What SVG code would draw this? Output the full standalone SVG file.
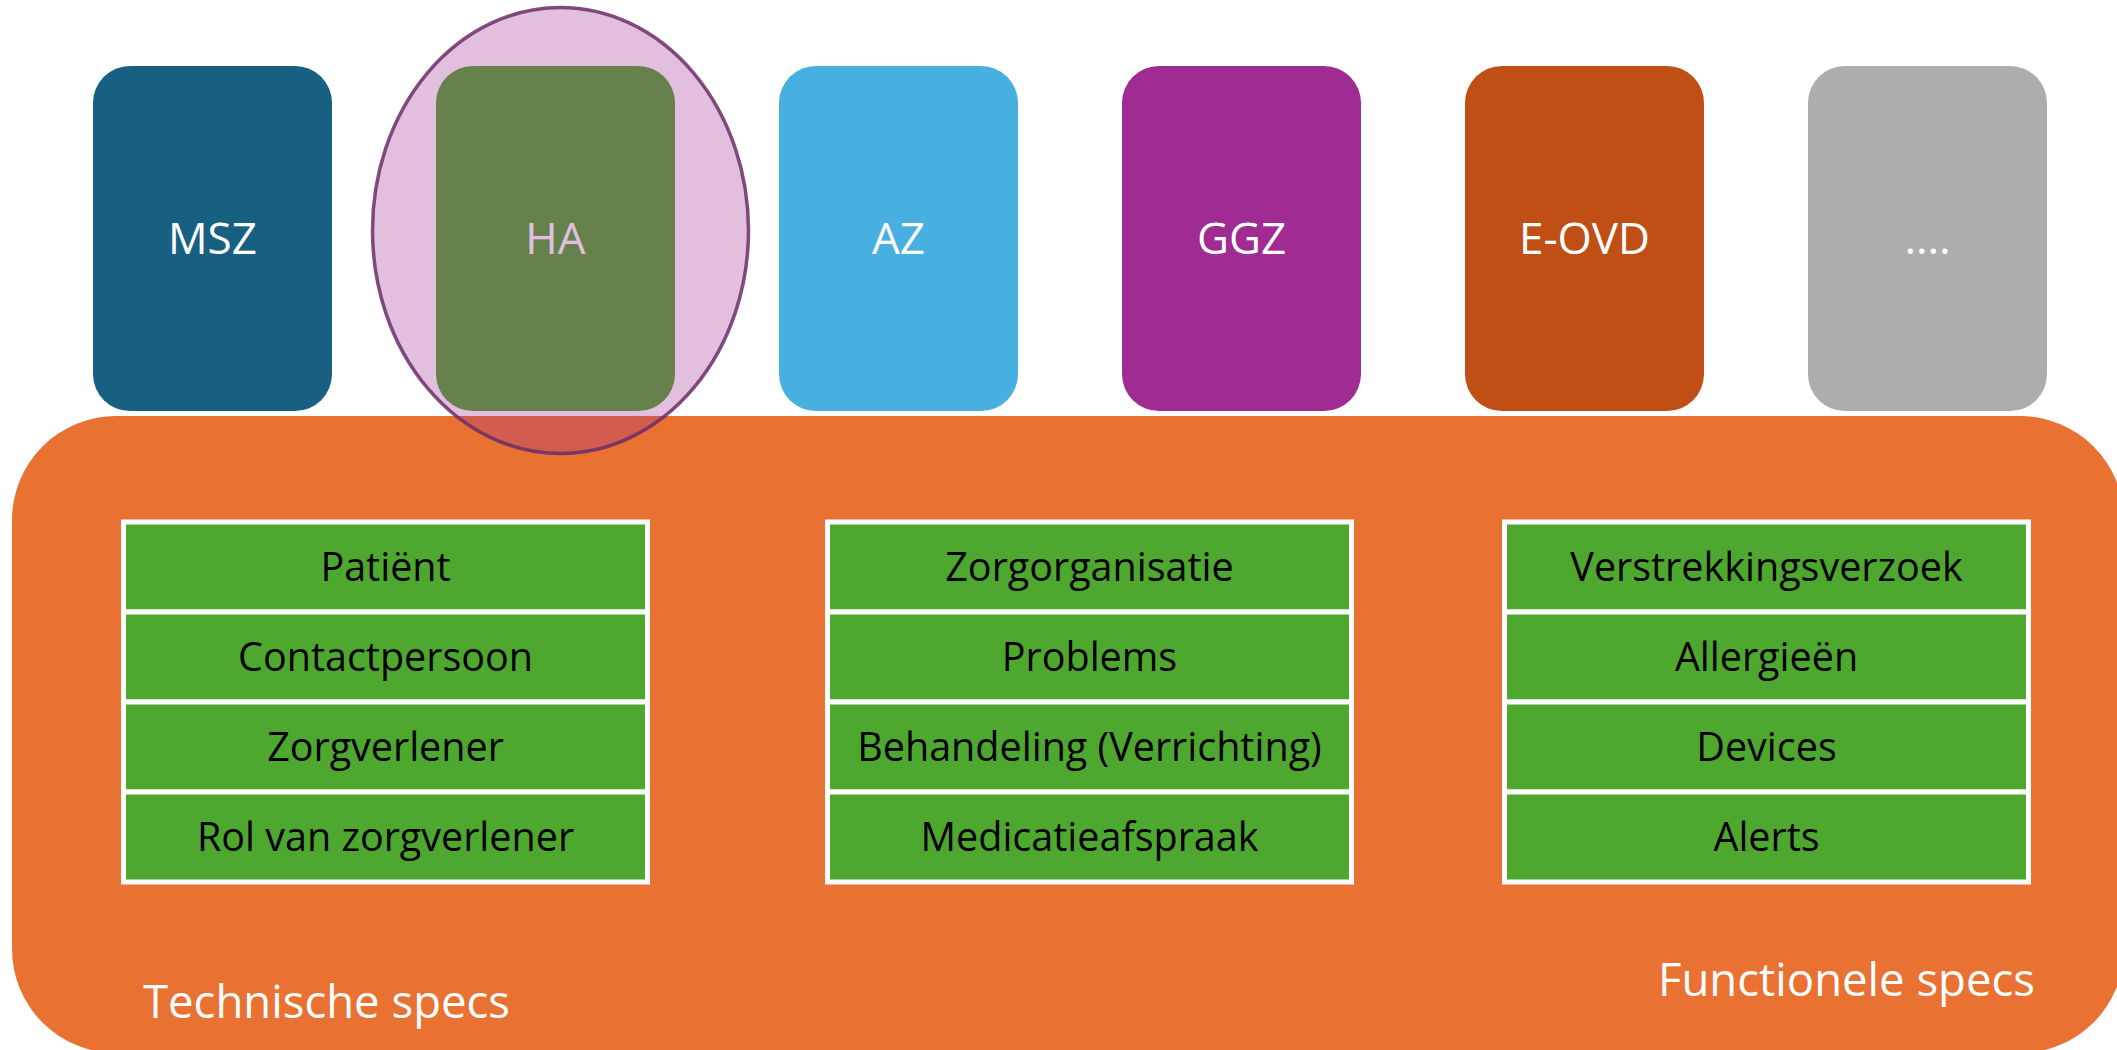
<svg xmlns="http://www.w3.org/2000/svg" width="2117" height="1050" viewBox="0 0 2117 1050">
  <style>
    .lbl { font-family: "Open Sans", "Liberation Sans", sans-serif; font-size: 44px; fill: #FFFFFF; text-anchor: middle; }
    .cell { fill: #4EA72E; stroke: #FFFFFF; stroke-width: 5; }
    .ct { font-family: "Open Sans", "Liberation Sans", sans-serif; font-size: 39.5px; fill: #000000; text-anchor: middle; }
    .spec { font-family: "Open Sans", "Liberation Sans", sans-serif; font-size: 45.5px; fill: #FFFFFF; }
  </style>
  <rect width="2117" height="1050" fill="#FFFFFF"/>

  <g id="panel">
    <rect x="12" y="416" width="2112" height="637" rx="104" ry="104" fill="#E97132"/>
    <text class="spec" x="143" y="1018">Technische specs</text>
    <text class="spec" x="2035" y="996" text-anchor="end">Functionele specs</text>
  </g>

  <g id="node-msz">
    <rect x="93" y="66" width="239" height="345" rx="37" fill="#186082"/>
    <text class="lbl" x="212.5" y="254">MSZ</text>
  </g>
  <g id="node-ha">
    <rect x="436" y="66" width="239" height="345" rx="37" fill="#4EA72E"/>
    <text class="lbl" x="555.5" y="254">HA</text>
  </g>
  <g id="node-az">
    <rect x="779" y="66" width="239" height="345" rx="37" fill="#47B0E0"/>
    <text class="lbl" x="898.5" y="254">AZ</text>
  </g>
  <g id="node-ggz">
    <rect x="1122" y="66" width="239" height="345" rx="37" fill="#A02B93"/>
    <text class="lbl" x="1241.5" y="254">GGZ</text>
  </g>
  <g id="node-eovd">
    <rect x="1465" y="66" width="239" height="345" rx="37" fill="#C04F15"/>
    <text class="lbl" x="1584.5" y="254">E-OVD</text>
  </g>
  <g id="node-more">
    <rect x="1808" y="66" width="239" height="345" rx="37" fill="#ADADAD"/>
    <text class="lbl" x="1927.5" y="254">....</text>
  </g>

  <g id="table-1">
    <rect class="cell" x="123.5" y="522" width="524" height="90"/>
    <rect class="cell" x="123.5" y="612" width="524" height="90"/>
    <rect class="cell" x="123.5" y="702" width="524" height="90"/>
    <rect class="cell" x="123.5" y="792" width="524" height="90"/>
    <text class="ct" x="385.5" y="581">Patiënt</text>
    <text class="ct" x="385.5" y="671">Contactpersoon</text>
    <text class="ct" x="385.5" y="761">Zorgverlener</text>
    <text class="ct" x="385.5" y="851">Rol van zorgverlener</text>
  </g>

  <g id="table-2">
    <rect class="cell" x="827.5" y="522" width="524" height="90"/>
    <rect class="cell" x="827.5" y="612" width="524" height="90"/>
    <rect class="cell" x="827.5" y="702" width="524" height="90"/>
    <rect class="cell" x="827.5" y="792" width="524" height="90"/>
    <text class="ct" x="1089.5" y="581">Zorgorganisatie</text>
    <text class="ct" x="1089.5" y="671">Problems</text>
    <text class="ct" x="1089.5" y="761">Behandeling (Verrichting)</text>
    <text class="ct" x="1089.5" y="851">Medicatieafspraak</text>
  </g>

  <g id="table-3">
    <rect class="cell" x="1504.5" y="522" width="524" height="90"/>
    <rect class="cell" x="1504.5" y="612" width="524" height="90"/>
    <rect class="cell" x="1504.5" y="702" width="524" height="90"/>
    <rect class="cell" x="1504.5" y="792" width="524" height="90"/>
    <text class="ct" x="1766.5" y="581">Verstrekkingsverzoek</text>
    <text class="ct" x="1766.5" y="671">Allergieën</text>
    <text class="ct" x="1766.5" y="761">Devices</text>
    <text class="ct" x="1766.5" y="851">Alerts</text>
  </g>

  <g id="highlight-ha">
    <ellipse cx="560.5" cy="230.5" rx="188" ry="223" fill="#A02B93" fill-opacity="0.3" stroke="#6B2E68" stroke-opacity="0.85" stroke-width="3.5"/>
  </g>
</svg>
